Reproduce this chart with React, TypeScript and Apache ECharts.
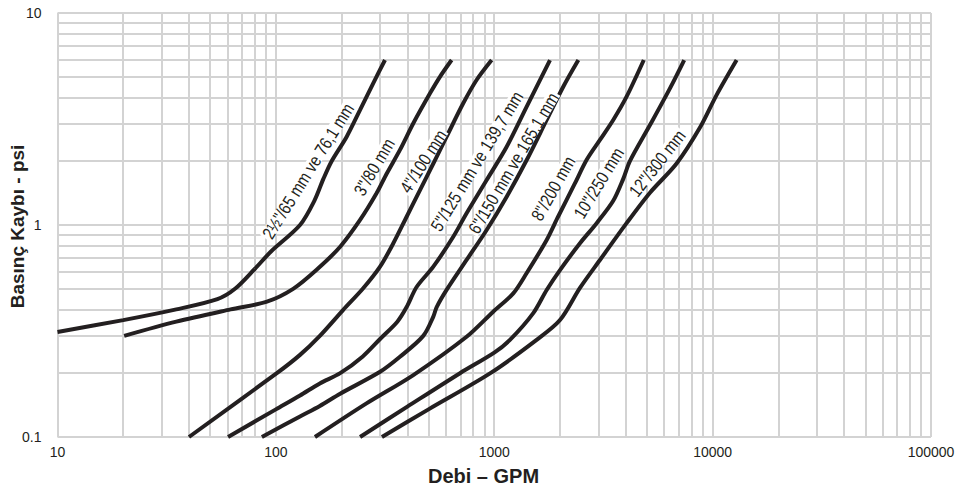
import React, { useEffect, useRef } from "react";
import * as echarts from "echarts";

// ---- axis ticks / labels ----
const xTickLabels = ["10", "100", "1000", "10000", "100000"];
const yTickLabels = ["0.1", "1", "10"];
const xMinorGrid = [
  20, 30, 40, 50, 60, 70, 80, 90,
  200, 300, 400, 500, 600, 700, 800, 900,
  2000, 3000, 4000, 5000, 6000, 7000, 8000, 9000,
  20000, 30000, 40000, 50000, 60000, 70000, 80000, 90000,
];
const yMinorGrid = [0.2, 0.3, 0.4, 0.5, 0.6, 0.7, 0.8, 0.9, 2, 3, 4, 5, 6, 7, 8, 9];

// ---- curves: [GPM, psi] ----
const pipeNames = [
  "2½\"/65 mm ve 76,1 mm",
  "3\"/80 mm",
  "4\"/100 mm",
  "5\"/125 mm ve 139,7 mm",
  "6\"/150 mm ve 165,1 mm",
  "8\"/200 mm",
  "10\"/250 mm",
  "12\"/300 mm",
];
const pipe65 = [[10, 0.313], [20, 0.356], [35, 0.4], [54, 0.447], [65, 0.5], [80, 0.62], [95, 0.75], [129, 1.0], [150, 1.3], [165, 1.65], [180, 2.0], [211, 2.61], [243, 3.49], [279, 4.66], [316, 6]];
const pipe80 = [[20.2, 0.3], [35, 0.35], [62, 0.4], [91, 0.435], [120, 0.5], [155, 0.62], [197, 0.79], [243, 1.056], [289, 1.41], [322, 1.75], [370, 2.26], [426, 3.02], [508, 4.18], [564, 5.0], [638, 6]];
const pipe100 = [[40, 0.1], [101, 0.2], [129, 0.244], [159, 0.3], [203, 0.397], [250, 0.5], [300, 0.636], [345, 0.82], [397, 1.094], [457, 1.46], [526, 1.95], [605, 2.61], [721, 3.75], [830, 4.83], [973, 6]];
const pipe125 = [[60.4, 0.1], [100, 0.135], [129, 0.157], [159, 0.179], [197, 0.2], [250, 0.24], [300, 0.29], [360, 0.35], [397, 0.41], [441, 0.51], [526, 0.636], [649, 0.88], [747, 1.136], [923, 1.63], [1140, 2.34], [1406, 3.61], [1800, 6]];
const pipe150 = [[86.3, 0.1], [129, 0.125], [159, 0.14], [197, 0.16], [300, 0.203], [370, 0.239], [473, 0.3], [526, 0.37], [545, 0.41], [605, 0.494], [747, 0.684], [923, 0.947], [1140, 1.36], [1406, 2.02], [1738, 3.13], [2070, 4.49], [2427, 6]];
const pipe200 = [[151, 0.1], [260, 0.144], [426, 0.196], [747, 0.297], [989, 0.39], [1222, 0.476], [1406, 0.592], [1738, 0.85], [1960, 1.094], [2340, 1.57], [2650, 2.03], [3048, 2.52], [3506, 3.13], [4036, 4.03], [4840, 6]];
const pipe250 = [[243, 0.1], [400, 0.139], [697, 0.2], [1000, 0.25], [1180, 0.287], [1509, 0.384], [1738, 0.494], [2000, 0.613], [2469, 0.82], [2944, 1.02], [3506, 1.3], [3897, 1.65], [4180, 2.0], [5165, 2.96], [6376, 4.41], [7410, 6]];
const pipe300 = [[306, 0.1], [500, 0.135], [960, 0.2], [1563, 0.287], [2000, 0.356], [2469, 0.505], [3048, 0.684], [4036, 1.02], [5165, 1.42], [6840, 1.95], [8750, 2.88], [10420, 4.1], [12880, 6]];
const pipeCurves = [pipe65, pipe80, pipe100, pipe125, pipe150, pipe200, pipe250, pipe300];

// label anchor (data coords of label centre) and angle in degrees
const labelAnchors = [[140, 1.8], [281, 1.88], [472, 2.0], [830, 2.0], [1222, 1.96], [1858, 1.49], [3000, 1.58], [5560, 1.96]];
const labelAngles = [58, 59.5, 57.5, 58.5, 59.5, 60.5, 58.5, 52];

const INK = "#231f20";
const GRID = "#d3d3d3";
const SANS = "'Liberation Sans', Arial, sans-serif";

export default function App() {
  const ref = useRef<HTMLDivElement>(null);
  useEffect(() => {
    if (!ref.current) return;
    const chart = echarts.init(ref.current, null, { renderer: "svg" });
    const series: any[] = [
      {
        type: "line",
        data: [],
        z: 1,
        silent: true,
        markLine: {
          silent: true,
          z: 1,
          symbol: "none",
          label: { show: false },
          animation: false,
          lineStyle: { color: GRID, width: 2, type: "solid" },
          data: [
            ...xMinorGrid.map((v) => ({ xAxis: v })),
            ...yMinorGrid.map((v) => ({ yAxis: v })),
          ],
        },
      },
      ...pipeCurves.map((d, i) => ({
        type: "line",
        name: pipeNames[i],
        data: d,
        z: 5,
        smooth: 0.3,
        symbol: "none",
        silent: true,
        lineStyle: { color: INK, width: 4, cap: "butt" },
      })),
    ];
    chart.setOption({
      animation: false,
      grid: { left: 57.5, right: 25, top: 13, bottom: 58, containLabel: false, outerBoundsMode: "none" },
      xAxis: {
        type: "log",
        logBase: 10,
        min: 10,
        max: 100000,
        axisLine: { show: false },
        axisTick: { show: false },
        splitLine: { show: true, lineStyle: { color: GRID, width: 2 } },
        axisLabel: {
          margin: 8,
          color: INK,
          fontFamily: SANS,
          fontSize: 14,
          showMinLabel: true,
          showMaxLabel: true,
          formatter: (_v: number, i: number) => xTickLabels[i] ?? "",
        },
      },
      yAxis: {
        type: "log",
        logBase: 10,
        min: 0.1,
        max: 10,
        axisLine: { show: false },
        axisTick: { show: false },
        splitLine: { show: true, lineStyle: { color: GRID, width: 2 } },
        axisLabel: {
          margin: 16,
          color: INK,
          fontFamily: SANS,
          fontSize: 14,
          showMinLabel: true,
          showMaxLabel: true,
          formatter: (_v: number, i: number) => yTickLabels[i] ?? "",
        },
      },
      series,
    });

    const graphics: any[] = [];
    labelAnchors.forEach((a, i) => {
      const p = chart.convertToPixel({ gridIndex: 0 }, a) as number[];
      graphics.push({
        type: "text",
        x: p[0],
        y: p[1],
        rotation: (labelAngles[i] * Math.PI) / 180,
        scaleX: 0.82,
        z: 100,
        silent: true,
        style: {
          text: pipeNames[i],
          fill: INK,
          fontFamily: SANS,
          fontSize: 18,
          lineHeight: 13,
          align: "center",
          verticalAlign: "middle",
          backgroundColor: "#ffffff",
          padding: [0, 2, 0, 2],
        },
      });
    });
    graphics.push({
      type: "text",
      x: 483.5,
      y: 475.5,
      z: 100,
      style: {
        text: "Debi – GPM",
        fill: INK,
        fontFamily: SANS,
        fontWeight: "bold",
        fontSize: 20,
        align: "center",
        verticalAlign: "middle",
      },
    });
    graphics.push({
      type: "text",
      x: 17,
      y: 226.5,
      rotation: Math.PI / 2,
      z: 100,
      style: {
        text: "Basınç Kaybı - psi",
        fill: INK,
        fontFamily: SANS,
        fontWeight: "bold",
        fontSize: 19,
        align: "center",
        verticalAlign: "middle",
      },
    });
    chart.setOption({ graphic: graphics });

    return () => chart.dispose();
  }, []);
  return (
    <div
      ref={ref}
      style={{ position: "fixed", left: 0, top: 0, width: 956, height: 495, background: "#fff" }}
    />
  );
}
